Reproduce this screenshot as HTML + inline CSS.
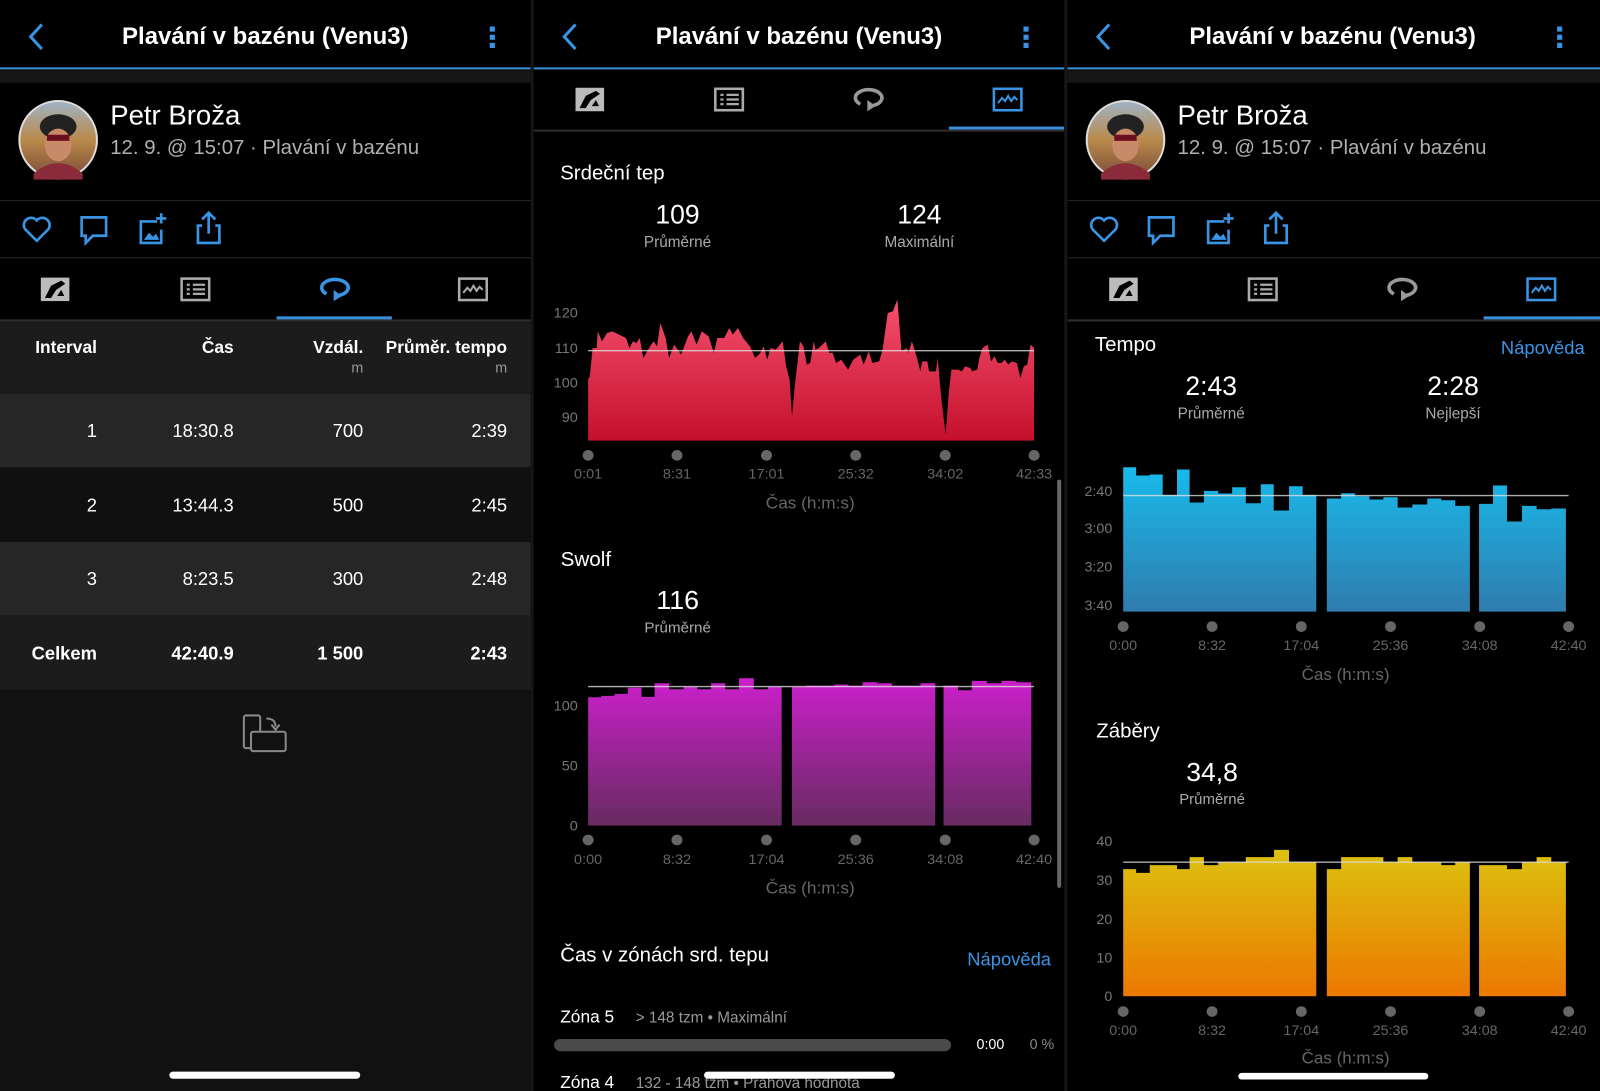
<!DOCTYPE html>
<html><head><meta charset="utf-8">
<style>
html,body{margin:0;padding:0;background:#000;width:1600px;height:1091px;overflow:hidden}
#w{position:absolute;left:0;top:0;width:1568px;height:1069px;transform:scale(1.0204,1.0206);transform-origin:0 0;font-family:"Liberation Sans",sans-serif;color:#fff}
.p{position:absolute;top:0;height:1069px;background:#000;overflow:hidden}
.t{position:absolute;white-space:nowrap;line-height:1}
.c{text-align:center}
.r{text-align:right}
.hl{position:absolute;left:0;right:0}
svg{position:absolute;overflow:visible}
.ttl{left:0;width:520px;top:24px;font-size:23.5px;font-weight:bold}
</style></head><body><div id="w">

<!-- ================= PANEL 1 ================= -->
<div class="p" style="left:0;width:520px">
  <div class="t c ttl">Plavání v bazénu (Venu3)</div>
  <svg style="left:0;top:0" width="520" height="70"><polyline points="41,24 30,36 41,48" fill="none" stroke="#3a94e6" stroke-width="3"/><rect x="480" y="26" width="5" height="5" fill="#3a94e6"/><rect x="480" y="34" width="5" height="5" fill="#3a94e6"/><rect x="480" y="42" width="5" height="5" fill="#3a94e6"/></svg>
  <div class="hl" style="top:66px;height:2px;background:#3a8fd9"></div>
  <div class="hl" style="top:69px;height:12px;background:#161616"></div>
  <svg style="left:0;top:90px" width="120" height="100"><defs><linearGradient id="av" x1="0" y1="0" x2="0" y2="1"><stop offset="0" stop-color="#9fb3c6"/><stop offset="0.5" stop-color="#b98a4a"/><stop offset="1" stop-color="#7a4a3a"/></linearGradient></defs><circle cx="57" cy="47" r="38" fill="url(#av)" stroke="#ddd" stroke-width="2"/><ellipse cx="57" cy="34" rx="18" ry="12" fill="#222"/><ellipse cx="57" cy="52" rx="13" ry="16" fill="#c98a6a"/><rect x="46" y="42" width="22" height="6" fill="#6a1020"/><path d="M33,80 Q57,60 81,80 L81,86 L33,86Z" fill="#8a2a3a"/></svg>
  <div class="t" style="left:108px;top:100px;font-size:27px">Petr Broža</div>
  <div class="t" style="left:108px;top:135px;font-size:20px;color:#b0b0b0">12. 9. @ 15:07 · Plavání v bazénu</div>
  <div class="hl" style="top:196px;height:1px;background:#262626"></div>
  <svg style="left:0;top:205px" width="240" height="40"><path d="M36,31 L25,20 A6.5,6.5 0 0 1 36,11 A6.5,6.5 0 0 1 47,20 Z" fill="none" stroke="#3a94e6" stroke-width="2.6"/><path d="M80,8 H104 V26 H91 L84,33 V26 H80 Z" fill="none" stroke="#3a94e6" stroke-width="2.6"/><path d="M154,12 H138 V33 H158 V20" fill="none" stroke="#3a94e6" stroke-width="2.6"/><path d="M141,30 L146,23 L150,27 L153,24 L156,30Z" fill="#3a94e6"/><path d="M158,4 V14 M153,9 H163" stroke="#3a94e6" stroke-width="2.6"/><path d="M198,16 H194 V33 H215 V16 H211 M204.5,24 V4 M198,10 L204.5,3.5 L211,10" fill="none" stroke="#3a94e6" stroke-width="2.6"/></svg>
  <div class="hl" style="top:252px;height:1px;background:#262626"></div>
  <svg style="left:0;top:268px" width="520" height="46">
    <rect x="40" y="4" width="28" height="23" fill="#bbb"/><path d="M50,12 L60,7 L64,10 L55,16 L50,24 L44,24Z" fill="#000"/><path d="M56,22 L60,16 L63,22Z" fill="#000"/>
    <rect x="178" y="5" width="27" height="21" fill="none" stroke="#aaa" stroke-width="2.5"/><path d="M183,11h3M183,15.5h3M183,20h3M189,11h12M189,15.5h12M189,20h12" stroke="#aaa" stroke-width="2.2"/>
    <path d="M320,20 A13,8 0 1 1 332,21.5" fill="none" stroke="#3a94e6" stroke-width="3.5"/><path d="M327,16 L335,22 L327,27Z" fill="#3a94e6"/>
    <rect x="450" y="5" width="27" height="21" fill="none" stroke="#aaa" stroke-width="2.5"/><polyline points="454,19 458,14 461,17 464,12 467,17 470,13 473,16" fill="none" stroke="#aaa" stroke-width="2"/>
  </svg>
  <div style="position:absolute;left:271px;width:113px;top:310px;height:3px;background:#3a8fd9"></div>
  <div class="hl" style="top:313px;height:2px;background:#2e2e2e"></div>
  <div class="hl" style="top:315px;height:71px;background:#1c1c1c"></div>
  <div class="hl" style="top:386px;height:72px;background:#262626"></div>
  <div class="hl" style="top:458px;height:73px;background:#101010"></div>
  <div class="hl" style="top:531px;height:72px;background:#262626"></div>
  <div class="hl" style="top:603px;height:73px;background:#1c1c1c"></div>
  <div class="hl" style="top:676px;height:393px;background:#111"></div>
  <div class="t r" style="right:425px;top:332px;font-size:17px;font-weight:bold">Interval</div>
  <div class="t r" style="right:291px;top:332px;font-size:17px;font-weight:bold">Čas</div>
  <div class="t r" style="right:164px;top:332px;font-size:17px;font-weight:bold">Vzdál.</div>
  <div class="t r" style="right:23px;top:332px;font-size:17px;font-weight:bold">Průměr. tempo</div>
  <div class="t r" style="right:164px;top:353px;font-size:14px;color:#999">m</div>
  <div class="t r" style="right:23px;top:353px;font-size:14px;color:#999">m</div>
  <div class="t r" style="right:425px;top:413px;font-size:18px">1</div>
  <div class="t r" style="right:291px;top:413px;font-size:18px">18:30.8</div>
  <div class="t r" style="right:164px;top:413px;font-size:18px">700</div>
  <div class="t r" style="right:23px;top:413px;font-size:18px">2:39</div>
  <div class="t r" style="right:425px;top:486px;font-size:18px">2</div>
  <div class="t r" style="right:291px;top:486px;font-size:18px">13:44.3</div>
  <div class="t r" style="right:164px;top:486px;font-size:18px">500</div>
  <div class="t r" style="right:23px;top:486px;font-size:18px">2:45</div>
  <div class="t r" style="right:425px;top:558px;font-size:18px">3</div>
  <div class="t r" style="right:291px;top:558px;font-size:18px">8:23.5</div>
  <div class="t r" style="right:164px;top:558px;font-size:18px">300</div>
  <div class="t r" style="right:23px;top:558px;font-size:18px">2:48</div>
  <div class="t r" style="right:425px;top:631px;font-size:18px;font-weight:bold">Celkem</div>
  <div class="t r" style="right:291px;top:631px;font-size:18px;font-weight:bold">42:40.9</div>
  <div class="t r" style="right:164px;top:631px;font-size:18px;font-weight:bold">1 500</div>
  <div class="t r" style="right:23px;top:631px;font-size:18px;font-weight:bold">2:43</div>
  <svg style="left:236px;top:698px" width="50" height="42"><rect x="3" y="3" width="16" height="32" rx="2" fill="none" stroke="#888" stroke-width="2"/><rect x="10" y="19" width="34" height="19" rx="2" fill="#111" stroke="#888" stroke-width="2"/><path d="M25,6 Q34,6 34,14" fill="none" stroke="#888" stroke-width="2"/><path d="M30,12 L34,17 L38,12" fill="none" stroke="#888" stroke-width="2"/></svg>
  <div style="position:absolute;left:166px;width:187px;top:1050px;height:7px;border-radius:4px;background:#fff"></div>
</div>

<!-- ================= PANEL 2 ================= -->
<div class="p" style="left:523px;width:520px">
  <div class="t c ttl">Plavání v bazénu (Venu3)</div>
  <svg style="left:0;top:0" width="520" height="70"><polyline points="41,24 30,36 41,48" fill="none" stroke="#3a94e6" stroke-width="3"/><rect x="480" y="26" width="5" height="5" fill="#3a94e6"/><rect x="480" y="34" width="5" height="5" fill="#3a94e6"/><rect x="480" y="42" width="5" height="5" fill="#3a94e6"/></svg>
  <div class="hl" style="top:66px;height:2px;background:#3a8fd9"></div>
  <svg style="left:0;top:82px" width="520" height="46">
    <rect x="41" y="4" width="28" height="23" fill="#bbb"/><path d="M51,12 L61,7 L65,10 L56,16 L51,24 L45,24Z" fill="#000"/><path d="M57,22 L61,16 L64,22Z" fill="#000"/>
    <rect x="178" y="5" width="27" height="21" fill="none" stroke="#aaa" stroke-width="2.5"/><path d="M183,11h3M183,15.5h3M183,20h3M189,11h12M189,15.5h12M189,20h12" stroke="#aaa" stroke-width="2.2"/>
    <path d="M320,20 A13,8 0 1 1 332,21.5" fill="none" stroke="#999" stroke-width="3.5"/><path d="M327,16 L335,22 L327,27Z" fill="#999"/>
    <rect x="451" y="5" width="27" height="21" fill="none" stroke="#3a94e6" stroke-width="2.5"/><polyline points="455,19 459,14 462,17 465,12 468,17 471,13 474,16" fill="none" stroke="#3a94e6" stroke-width="2"/>
  </svg>
  <div style="position:absolute;left:407px;width:113px;top:124px;height:3px;background:#3a8fd9"></div>
  <div class="hl" style="top:127px;height:2px;background:#2e2e2e"></div>
  <div class="t" style="left:26px;top:160px;font-size:20px">Srdeční tep</div>
  <div class="t c" style="left:91px;width:100px;top:197px;font-size:26px">109</div>
  <div class="t c" style="left:81px;width:120px;top:230px;font-size:15px;color:#aaa">Průměrné</div>
  <div class="t c" style="left:328px;width:100px;top:197px;font-size:26px">124</div>
  <div class="t c" style="left:318px;width:120px;top:230px;font-size:15px;color:#aaa">Maximální</div>
  <div style="position:absolute;left:513px;top:470px;width:4px;height:400px;border-radius:2px;background:#666"></div>
  <div class="t" style="left:26px;top:926px;font-size:20px">Čas v zónách srd. tepu</div>
  <div class="t r" style="right:13px;top:931px;font-size:18px;color:#3a94e6">Nápověda</div>
  <div class="t" style="left:26px;top:988px;font-size:17px">Zóna 5</div>
  <div class="t" style="left:100px;top:990px;font-size:15px;color:#999">&gt; 148 tzm • Maximální</div>
  <div style="position:absolute;left:20px;width:389px;top:1018px;height:12px;border-radius:6px;background:#4a4a4a"></div>
  <div class="t" style="left:434px;top:1016px;font-size:14px">0:00</div>
  <div class="t" style="left:486px;top:1016px;font-size:14px;color:#888">0 %</div>
  <div class="t" style="left:26px;top:1052px;font-size:17px">Zóna 4</div>
  <div class="t" style="left:100px;top:1054px;font-size:15px;color:#999">132 - 148 tzm • Prahová hodnota</div>
  <div style="position:absolute;left:167px;width:187px;top:1050px;height:7px;border-radius:4px;background:#fff"></div>
</div>

<!-- HR chart -->
<svg style="left:519.4px;top:274.4px" width="529.2" height="245" viewBox="0 0 1568 750" preserveAspectRatio="none">
<defs><linearGradient id="gr" x1="0" y1="0" x2="0" y2="1"><stop offset="0" stop-color="#f5506f"/><stop offset="1" stop-color="#c4102c"/></linearGradient></defs>
<path fill="url(#gr)" d="M170,483 L170,300 175,290 183,205 195,205 198,155 210,185 225,160 240,155 260,165 280,175 290,205 300,185 310,190 320,175 330,235 350,200 360,185 370,200 380,130 395,175 405,235 420,195 440,225 460,170 470,155 485,195 500,155 520,170 535,220 545,175 565,175 580,145 590,165 605,145 620,175 640,200 655,235 670,220 680,200 690,240 700,205 715,210 735,185 745,260 755,300 762,410 770,320 785,185 795,200 805,255 815,250 825,185 830,210 840,205 860,185 870,220 880,220 890,250 905,240 915,255 925,270 940,240 960,225 970,255 985,215 995,250 1015,245 1025,210 1040,100 1055,95 1068,60 1080,215 1095,205 1100,220 1110,185 1125,235 1135,275 1140,245 1155,245 1160,275 1180,275 1185,235 1195,350 1208,465 1218,330 1225,270 1245,270 1255,275 1265,260 1280,265 1285,275 1300,270 1305,240 1315,205 1330,195 1340,245 1350,230 1360,250 1370,250 1380,240 1390,255 1400,245 1415,250 1425,295 1435,260 1445,255 1455,195 1465,205 1465,483 Z"/>
<line x1="170" y1="213" x2="1465" y2="213" stroke="#ddd" stroke-width="4" opacity="0.8"/>
<g font-family="Liberation Sans" font-size="42" fill="#777" text-anchor="end"><text x="140" y="114">120</text><text x="140" y="220">110</text><text x="140" y="323">100</text><text x="140" y="427">90</text></g>
<g fill="#666"><circle cx="170" cy="527" r="16"/><circle cx="428" cy="527" r="16"/><circle cx="688" cy="527" r="16"/><circle cx="947" cy="527" r="16"/><circle cx="1207" cy="527" r="16"/><circle cx="1465" cy="527" r="16"/></g>
<g font-family="Liberation Sans" font-size="42" fill="#666" text-anchor="middle"><text x="170" y="597">0:01</text><text x="428" y="597">8:31</text><text x="688" y="597">17:01</text><text x="947" y="597">25:32</text><text x="1207" y="597">34:02</text><text x="1465" y="597">42:33</text><text x="815" y="686" font-size="50">Čas (h:m:s)</text></g>
</svg>

<!-- Swolf chart -->
<svg style="left:519.4px;top:529.2px" width="529.2" height="352.8" viewBox="0 0 1568 1080" preserveAspectRatio="none">
<defs><linearGradient id="gs" x1="0" y1="0" x2="0" y2="1"><stop offset="0" stop-color="#cc1fcc"/><stop offset="1" stop-color="#672b60"/></linearGradient></defs>
<text x="90" y="78" font-family="Liberation Sans" font-size="60" fill="#fff">Swolf</text>
<text x="430" y="207" font-family="Liberation Sans" font-size="78" fill="#fff" text-anchor="middle">116</text>
<text x="430" y="278" font-family="Liberation Sans" font-size="44" fill="#aaa" text-anchor="middle">Průměrné</text>
<path fill="url(#gs)" d="M170,857 V472 H208 V468 H247 V462 H285 V443 H325 V471 H363 V430 H405 V448 H447 V441 H487 V448 H527 V430 H568 V448 H608 V415 H651 V448 H692 V441 H732 V857Z M762,857 V441 H803 V437 H885 V434 H926 V437 H967 V427 H1009 V430 H1052 V437 H1135 V430 H1178 V857Z M1202,857 V437 H1244 V451 H1284 V423 H1328 V430 H1370 V423 H1413 V427 H1457 V857Z"/>
<line x1="170" y1="440" x2="1465" y2="440" stroke="#ddd" stroke-width="4" opacity="0.8"/>
<g font-family="Liberation Sans" font-size="42" fill="#777" text-anchor="end"><text x="140" y="512">100</text><text x="140" y="692">50</text><text x="140" y="872">0</text></g>
<g fill="#666"><circle cx="170" cy="900" r="16"/><circle cx="428" cy="900" r="16"/><circle cx="688" cy="900" r="16"/><circle cx="947" cy="900" r="16"/><circle cx="1207" cy="900" r="16"/><circle cx="1465" cy="900" r="16"/></g>
<g font-family="Liberation Sans" font-size="42" fill="#666" text-anchor="middle"><text x="170" y="972">0:00</text><text x="428" y="972">8:32</text><text x="688" y="972">17:04</text><text x="947" y="972">25:36</text><text x="1207" y="972">34:08</text><text x="1465" y="972">42:40</text><text x="815" y="1060" font-size="50">Čas (h:m:s)</text></g>
</svg>

<!-- ================= PANEL 3 ================= -->
<div class="p" style="left:1046px;width:522px">
  <div class="t c ttl">Plavání v bazénu (Venu3)</div>
  <svg style="left:0;top:0" width="520" height="70"><polyline points="41,24 30,36 41,48" fill="none" stroke="#3a94e6" stroke-width="3"/><rect x="480" y="26" width="5" height="5" fill="#3a94e6"/><rect x="480" y="34" width="5" height="5" fill="#3a94e6"/><rect x="480" y="42" width="5" height="5" fill="#3a94e6"/></svg>
  <div class="hl" style="top:66px;height:2px;background:#3a8fd9"></div>
  <div class="hl" style="top:69px;height:12px;background:#161616"></div>
  <svg style="left:0;top:90px" width="120" height="100"><circle cx="57" cy="47" r="38" fill="url(#av)" stroke="#ddd" stroke-width="2"/><ellipse cx="57" cy="34" rx="18" ry="12" fill="#222"/><ellipse cx="57" cy="52" rx="13" ry="16" fill="#c98a6a"/><rect x="46" y="42" width="22" height="6" fill="#6a1020"/><path d="M33,80 Q57,60 81,80 L81,86 L33,86Z" fill="#8a2a3a"/></svg>
  <div class="t" style="left:108px;top:100px;font-size:27px">Petr Broža</div>
  <div class="t" style="left:108px;top:135px;font-size:20px;color:#b0b0b0">12. 9. @ 15:07 · Plavání v bazénu</div>
  <div class="hl" style="top:196px;height:1px;background:#262626"></div>
  <svg style="left:0;top:205px" width="240" height="40"><path d="M36,31 L25,20 A6.5,6.5 0 0 1 36,11 A6.5,6.5 0 0 1 47,20 Z" fill="none" stroke="#3a94e6" stroke-width="2.6"/><path d="M80,8 H104 V26 H91 L84,33 V26 H80 Z" fill="none" stroke="#3a94e6" stroke-width="2.6"/><path d="M154,12 H138 V33 H158 V20" fill="none" stroke="#3a94e6" stroke-width="2.6"/><path d="M141,30 L146,23 L150,27 L153,24 L156,30Z" fill="#3a94e6"/><path d="M158,4 V14 M153,9 H163" stroke="#3a94e6" stroke-width="2.6"/><path d="M198,16 H194 V33 H215 V16 H211 M204.5,24 V4 M198,10 L204.5,3.5 L211,10" fill="none" stroke="#3a94e6" stroke-width="2.6"/></svg>
  <div class="hl" style="top:252px;height:1px;background:#262626"></div>
  <svg style="left:0;top:268px" width="520" height="46">
    <rect x="41" y="4" width="28" height="23" fill="#bbb"/><path d="M51,12 L61,7 L65,10 L56,16 L51,24 L45,24Z" fill="#000"/><path d="M57,22 L61,16 L64,22Z" fill="#000"/>
    <rect x="178" y="5" width="27" height="21" fill="none" stroke="#aaa" stroke-width="2.5"/><path d="M183,11h3M183,15.5h3M183,20h3M189,11h12M189,15.5h12M189,20h12" stroke="#aaa" stroke-width="2.2"/>
    <path d="M320,20 A13,8 0 1 1 332,21.5" fill="none" stroke="#999" stroke-width="3.5"/><path d="M327,16 L335,22 L327,27Z" fill="#999"/>
    <rect x="451" y="5" width="27" height="21" fill="none" stroke="#3a94e6" stroke-width="2.5"/><polyline points="455,19 459,14 462,17 465,12 468,17 471,13 474,16" fill="none" stroke="#3a94e6" stroke-width="2"/>
  </svg>
  <div style="position:absolute;left:408px;width:114px;top:310px;height:3px;background:#3a8fd9"></div>
  <div class="hl" style="top:313px;height:2px;background:#2e2e2e"></div>
  <div class="t" style="left:27px;top:328px;font-size:20px">Tempo</div>
  <div class="t r" style="right:15px;top:332px;font-size:18px;color:#3a94e6">Nápověda</div>
  <div class="t c" style="left:91px;width:100px;top:365px;font-size:26px">2:43</div>
  <div class="t c" style="left:81px;width:120px;top:398px;font-size:15px;color:#aaa">Průměrné</div>
  <div class="t c" style="left:328px;width:100px;top:365px;font-size:26px">2:28</div>
  <div class="t c" style="left:318px;width:120px;top:398px;font-size:15px;color:#aaa">Nejlepší</div>
</div>

<!-- Tempo chart -->
<svg style="left:1044.7px;top:431.2px" width="523.3" height="245" viewBox="0 0 1568 750" preserveAspectRatio="none">
<defs><linearGradient id="gt" x1="0" y1="0" x2="0" y2="1"><stop offset="0" stop-color="#18bbec"/><stop offset="1" stop-color="#2f7cad"/></linearGradient></defs>
<path fill="url(#gt)" d="M167,515 V82 H205 V107 H245 V104 H283 V165 H325 V89 H362 V188 H404 V153 H446 V161 H487 V142 H527 V190 H571 V133 H609 V212 H654 V139 H694 V165 H734 V515Z M765,515 V176 H807 V160 H848 V169 H890 V179 H931 V172 H973 V203 H1016 V194 H1060 V176 H1101 V181 H1142 V198 H1185 V515Z M1212,515 V192 H1253 V137 H1294 V245 H1338 V198 H1381 V208 H1424 V206 H1467 V515Z"/>
<line x1="167" y1="167" x2="1475" y2="167" stroke="#ddd" stroke-width="4" opacity="0.8"/>
<g font-family="Liberation Sans" font-size="42" fill="#777" text-anchor="end"><text x="135" y="168">2:40</text><text x="135" y="280">3:00</text><text x="135" y="395">3:20</text><text x="135" y="510">3:40</text></g>
<g fill="#666"><circle cx="167" cy="560" r="16"/><circle cx="428" cy="560" r="16"/><circle cx="690" cy="560" r="16"/><circle cx="952" cy="560" r="16"/><circle cx="1214" cy="560" r="16"/><circle cx="1475" cy="560" r="16"/></g>
<g font-family="Liberation Sans" font-size="42" fill="#666" text-anchor="middle"><text x="167" y="631">0:00</text><text x="428" y="631">8:32</text><text x="690" y="631">17:04</text><text x="952" y="631">25:36</text><text x="1214" y="631">34:08</text><text x="1475" y="631">42:40</text><text x="820" y="720" font-size="50">Čas (h:m:s)</text></g>
</svg>

<!-- Strokes chart -->
<svg style="left:1044.7px;top:686px" width="523.3" height="383.2" viewBox="0 0 1568 1173" preserveAspectRatio="none">
<defs><linearGradient id="gy" x1="0" y1="0" x2="0" y2="1"><stop offset="0" stop-color="#dcc210"/><stop offset="1" stop-color="#ec7800"/></linearGradient></defs>
<text x="88" y="112" font-family="Liberation Sans" font-size="60" fill="#fff">Záběry</text>
<text x="428" y="242" font-family="Liberation Sans" font-size="78" fill="#fff" text-anchor="middle">34,8</text>
<text x="428" y="312" font-family="Liberation Sans" font-size="44" fill="#aaa" text-anchor="middle">Průměrné</text>
<path fill="url(#gy)" d="M167,888 V507 H205 V518 H245 V495 H325 V507 H362 V471 H404 V495 H446 V486 H527 V471 H610 V449 H654 V486 H734 V888Z M765,888 V507 H807 V471 H931 V486 H973 V471 H1016 V486 H1101 V495 H1142 V486 H1185 V888Z M1212,888 V495 H1294 V507 H1338 V486 H1381 V471 H1424 V486 H1467 V888Z"/>
<line x1="167" y1="486" x2="1475" y2="486" stroke="#ddd" stroke-width="4" opacity="0.8"/>
<g font-family="Liberation Sans" font-size="42" fill="#777" text-anchor="end"><text x="135" y="438">40</text><text x="135" y="555">30</text><text x="135" y="671">20</text><text x="135" y="787">10</text><text x="135" y="903">0</text></g>
<g fill="#666"><circle cx="167" cy="934" r="16"/><circle cx="428" cy="934" r="16"/><circle cx="690" cy="934" r="16"/><circle cx="952" cy="934" r="16"/><circle cx="1214" cy="934" r="16"/><circle cx="1475" cy="934" r="16"/></g>
<g font-family="Liberation Sans" font-size="42" fill="#666" text-anchor="middle"><text x="167" y="1005">0:00</text><text x="428" y="1005">8:32</text><text x="690" y="1005">17:04</text><text x="952" y="1005">25:36</text><text x="1214" y="1005">34:08</text><text x="1475" y="1005">42:40</text><text x="820" y="1090" font-size="50">Čas (h:m:s)</text></g>
<rect x="505" y="1118" width="558" height="20" rx="10" fill="#fff"/>
</svg>

<div style="position:absolute;left:520px;top:0;width:3px;height:1069px;background:#161616"></div>
<div style="position:absolute;left:1043px;top:0;width:3px;height:1069px;background:#161616"></div>
</div></body></html>
